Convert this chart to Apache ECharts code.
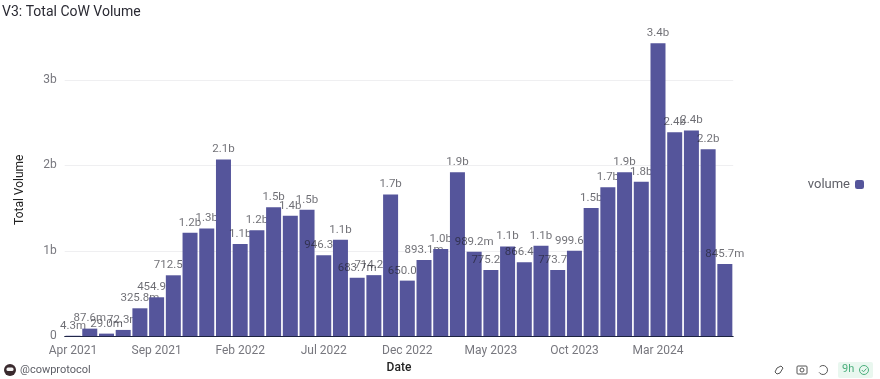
<!DOCTYPE html>
<html><head><meta charset="utf-8">
<style>html,body{margin:0;padding:0;background:#fff}#c{width:880px;height:379px}</style>
<script src="https://cdn.jsdelivr.net/npm/echarts@6/dist/echarts.min.js"></script>
</head><body><div id="c"></div>
<script>
const months = ['Apr 2021','May 2021','Jun 2021','Jul 2021','Aug 2021','Sep 2021','Oct 2021','Nov 2021','Dec 2021','Jan 2022','Feb 2022','Mar 2022','Apr 2022','May 2022','Jun 2022','Jul 2022','Aug 2022','Sep 2022','Oct 2022','Nov 2022','Dec 2022','Jan 2023','Feb 2023','Mar 2023','Apr 2023','May 2023','Jun 2023','Jul 2023','Aug 2023','Sep 2023','Oct 2023','Nov 2023','Dec 2023','Jan 2024','Feb 2024','Mar 2024','Apr 2024','May 2024','Jun 2024','Jul 2024'];
const volume = [4.3e6,87.6e6,29.0e6,72.3e6,325.8e6,454.9e6,712.5e6,1.21e9,1.26e9,2.07e9,1.08e9,1.24e9,1.51e9,1.41e9,1.48e9,946.3e6,1.13e9,683.7e6,714.2e6,1.66e9,650.0e6,893.1e6,1.02e9,1.92e9,989.2e6,775.2e6,1.05e9,866.4e6,1.06e9,773.7e6,999.6e6,1.50e9,1.745e9,1.92e9,1.81e9,3.43e9,2.39e9,2.41e9,2.19e9,845.7e6];
const FONT = 'Roboto, "Noto Sans", sans-serif';
const BAR = '#55559b';
const fmt = v => v >= 1e9 ? (v/1e9).toFixed(1)+'b' : (v/1e6).toFixed(1)+'m';
// One series per month so a later bar paints over an earlier bar's label, as in the reference.
const series = volume.map((v,i) => ({
  name:'volume', type:'bar', stack:'v', z:2+i, barWidth:15, itemStyle:{color:BAR},
  data: volume.map((_,j) => j===i ? v : null),
  label:{show:true, position:'top', distance:4, color:'rgba(30,30,40,0.65)', fontFamily:FONT, fontSize:11.5,
         formatter:p => fmt(p.value)}
}));
const chart = echarts.init(document.getElementById('c'), null, {renderer:'canvas'});
chart.setOption({
  animation:false, backgroundColor:'#fff',
  title:{text:'V3: Total CoW Volume', left:2, top:5, padding:0,
         textStyle:{fontFamily:FONT, fontSize:14, fontWeight:400, color:'#2a2a33'}},
  legend:{data:['volume'], orient:'vertical', align:'right', right:16, top:178, padding:0,
          icon:'roundRect', itemWidth:9, itemHeight:9,
          textStyle:{fontFamily:FONT, fontSize:13, color:'#5f6068'}},
  grid:{left:64.7, right:146.8, top:37.4, bottom:42},
  xAxis:{type:'category', data:months, name:'Date', nameLocation:'middle', nameGap:25,
         nameTextStyle:{fontFamily:FONT, fontSize:12, color:'#222', fontWeight:500},
         axisLine:{lineStyle:{color:'#1c2340', width:1}}, axisTick:{show:false},
         axisLabel:{interval:4, margin:9, color:'#77777e', fontFamily:FONT, fontSize:12, hideOverlap:false}},
  yAxis:{type:'value', min:0, max:3.5e9, interval:1e9, name:'Total Volume', nameLocation:'middle', nameGap:39,
         nameTextStyle:{fontFamily:FONT, fontSize:12, color:'#222', padding:[0,6,0,0]},
         axisLine:{show:false}, axisTick:{show:false},
         axisLabel:{margin:8, showMaxLabel:false, color:'#77777e', fontFamily:FONT, fontSize:12,
                    formatter:v => v===0 ? '0' : (v/1e9)+'b'},
         splitLine:{show:true, showMaxLine:false, lineStyle:{color:'#efeff1', width:1}}},
  series,
  graphic:[
    {type:'circle', shape:{cx:10, cy:370, r:6}, style:{fill:'#3a2a2e'}},
    {type:'rect', shape:{x:6.5, y:367.5, width:7, height:3.5, r:1.5}, style:{fill:'#f3f3f3'}},
    {type:'text', x:20, y:365, style:{text:'@cowprotocol', fontFamily:FONT, fontSize:11, fill:'#5f6068'}},
    {type:'polyline', shape:{points:[[781,366],[783,368],[780,373],[777,374],[775,372],[777,368],[781,366]]}, style:{fill:'none', stroke:'#555', lineWidth:1}},
    {type:'rect', shape:{x:797, y:366, width:10, height:8, r:1}, style:{fill:'none', stroke:'#555', lineWidth:1}},
    {type:'circle', shape:{cx:802, cy:370, r:2}, style:{fill:'none', stroke:'#555', lineWidth:1}},
    {type:'arc', shape:{cx:823, cy:370, r:4.5, startAngle:-2.4, endAngle:2.6, clockwise:true}, style:{fill:'none', stroke:'#555', lineWidth:1}},
    {type:'rect', shape:{x:838, y:362, width:35, height:16, r:2}, style:{fill:'#e9f7ef'}},
    {type:'text', x:842, y:364, style:{text:'9h', fontFamily:FONT, fontSize:11, fill:'#4caf7d'}},
    {type:'circle', shape:{cx:864, cy:370, r:4.5}, style:{fill:'none', stroke:'#4caf7d', lineWidth:1}},
    {type:'polyline', shape:{points:[[861.8,370],[863.5,371.8],[866.4,368.6]]}, style:{fill:'none', stroke:'#4caf7d', lineWidth:1}}
  ]
});
</script></body></html>
